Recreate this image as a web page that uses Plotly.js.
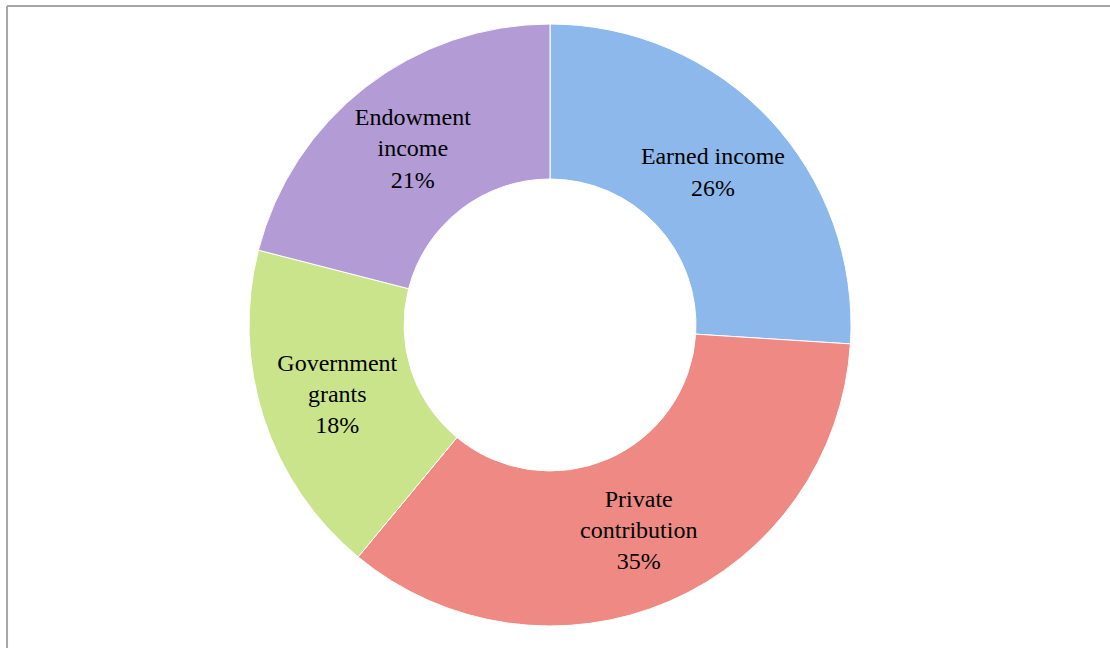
<!DOCTYPE html>
<html>
<head>
<meta charset="utf-8">
<script src="https://cdn.plot.ly/plotly-3.0.1.min.js"></script>
<style>html,body{margin:0;padding:0;background:#fff;}#chart{width:1110px;height:648px;}</style>
</head>
<body>
<div id="chart"></div>
<script>
var categories = ["Earned income", "Private<br>contribution", "Government<br>grants", "Endowment<br>income"];
var shares = [26, 35, 18, 21];
var sliceColors = ["#8cb8ec", "#ee8984", "#c9e48a", "#b39bd6"];

var trace = {
  type: "pie",
  labels: categories,
  values: shares,
  hole: 0.485,
  sort: false,
  direction: "clockwise",
  rotation: 0,
  marker: {colors: sliceColors, line: {color: "#ffffff", width: 1}},
  texttemplate: "%{label}<br>%{value}%",
  textposition: "inside",
  insidetextorientation: "horizontal",
  textfont: {family: "Liberation Serif, serif", size: 24, color: "#000000"},
  hoverinfo: "label+percent",
  showlegend: false
};

var layout = {
  width: 1110,
  height: 648,
  margin: {l: 0, r: 10, t: 24, b: 22},
  paper_bgcolor: "#ffffff",
  plot_bgcolor: "#ffffff",
  showlegend: false,
  shapes: [
    {type: "line", xref: "paper", yref: "paper", x0: 0.0064, x1: 0.0064, y0: 1.03, y1: -0.06, line: {color: "#a6a6a6", width: 2}},
    {type: "line", xref: "paper", yref: "paper", x0: 0.0064, x1: 1.02, y0: 1.03, y1: 1.03, line: {color: "#a6a6a6", width: 2}}
  ]
};

Plotly.newPlot("chart", [trace], layout, {displayModeBar: false, staticPlot: true});
</script>
</body>
</html>
